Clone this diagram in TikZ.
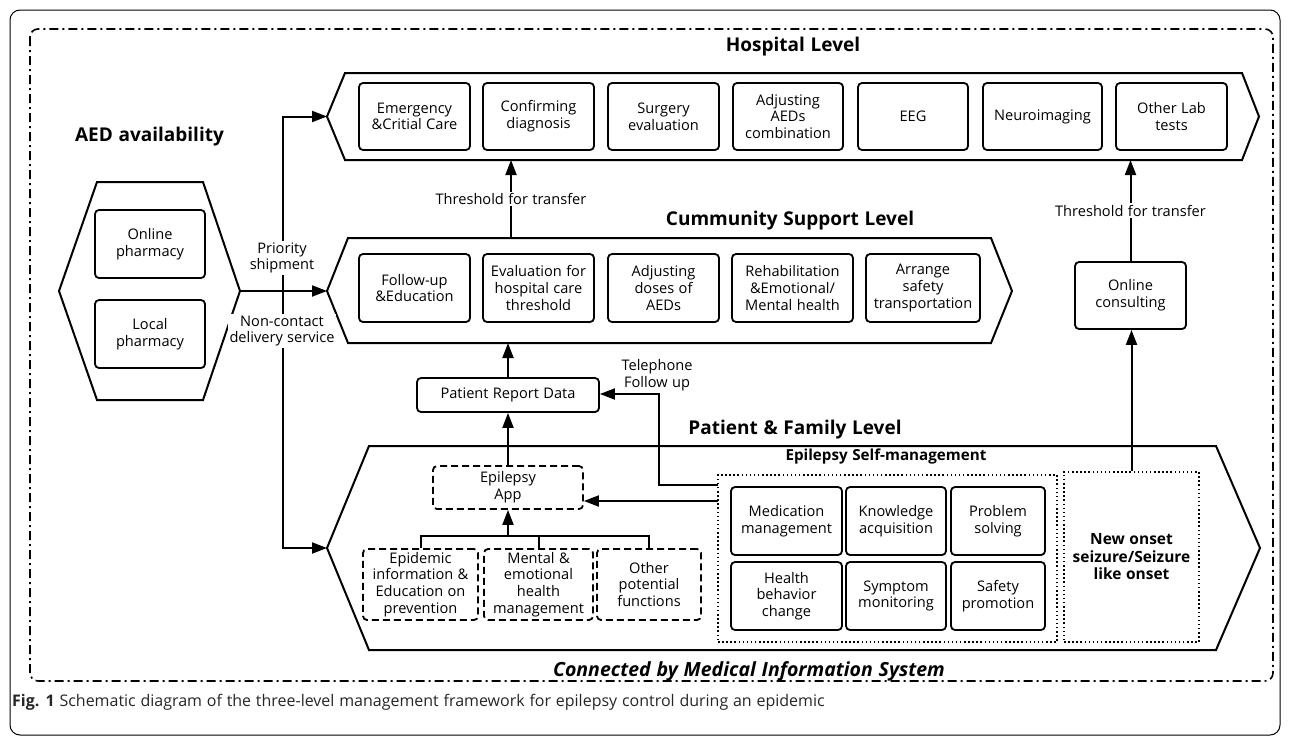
\documentclass[tikz,border=0pt]{standalone}
\usepackage{fontspec}
\setmainfont{Open Sans}[WordSpace=1.15]
\usetikzlibrary{arrows.meta,calc}
\newcommand{\bodyfs}{\fontsize{14.6}{16.7}\selectfont}
\newcommand{\titlefs}{\fontsize{19}{22}\selectfont\bfseries}
\begin{document}
\begin{tikzpicture}[x=1pt,y=-1pt,
  lw/.style={line width=2pt},
  box/.style={draw, line width=1.8pt, rounded corners=4pt, align=center, inner sep=1pt, font=\bodyfs},
  hbox/.style={box, minimum height=67pt},
  cbox/.style={box, minimum height=68pt},
  dbox/.style={box, dash pattern=on 7pt off 4pt},
  dotbox/.style={draw, line width=1.6pt, dash pattern=on 1.5pt off 2.6pt},
  smbox/.style={box, minimum height=68pt},
  title/.style={font=\titlefs, inner sep=0pt},
  lab/.style={font=\bodyfs, align=center, inner sep=1.5pt},
  arr/.style={lw, -{Triangle[length=15pt,width=11pt]}},
]
\useasboundingbox (0,0) rectangle (1290,736);
% frames
\draw[line width=1pt, rounded corners=10pt] (10,10) rectangle (1280,735);
\draw[line width=1.6pt, rounded corners=8pt, dash pattern=on 9pt off 4pt on 2pt off 4pt] (30,29) rectangle (1273,681);

% level shapes
\draw[lw] (345,73) -- (1242,73) -- (1259,116.5) -- (1242,160) -- (345,160) -- (327,116.5) -- cycle;
\coordinate (hospin) at (327,116.5);
\coordinate (hospb1) at (511,160);
\coordinate (hospb2) at (1130.5,160);
\draw[lw] (348,238) -- (991,238) -- (1012,291) -- (991,343) -- (348,343) -- (327,291) -- cycle;
\coordinate (commin) at (327,291);
\coordinate (commt) at (511,238);
\coordinate (commb) at (508,343);
\draw[lw] (369,446) -- (1216,446) -- (1260,548) -- (1216,650) -- (369,650) -- (327,548) -- cycle;
\coordinate (patin) at (327,548);
\draw[lw] (97,182) -- (203,182) -- (240,291) -- (203,400) -- (97,400) -- (59,291) -- cycle;
\coordinate (pharmr) at (240,291);
\coordinate (split) at (283,291);

% titles
\node[title] (tH) at (793,47) {Hospital Level};
\node[title] (tC) at (790,221) {Cummunity Support Level};
\node[title] (tP) at (795,430) {Patient \& Family Level};
\node[title] (tA) at (149.5,137) {AED availability};

% pharmacy
\node[box, minimum width=110pt, minimum height=68pt] (onph) at (150,244) {Online\\pharmacy};
\node[box, minimum width=110pt, minimum height=68pt] (loph) at (150,334) {Local\\pharmacy};

% hospital boxes
\node[hbox, minimum width=111pt] (h1) at (414.5,116.5) {Emergency\\\&Critial Care};
\node[hbox, minimum width=111pt] (h2) at (538.5,116.5) {Confirming\\diagnosis};
\node[hbox, minimum width=111pt] (h3) at (663.5,116.5) {Surgery\\evaluation};
\node[hbox, minimum width=110pt] (h4) at (788,116.5) {Adjusting\\AEDs\\combination};
\node[hbox, minimum width=110pt] (h5) at (913,116.5) {EEG};
\node[hbox, minimum width=119pt] (h6) at (1042.5,116.5) {Neuroimaging};
\node[hbox, minimum width=111pt] (h7) at (1171.5,116.5) {Other Lab\\tests};

% community boxes
\node[cbox, minimum width=111pt] (c1) at (414.5,288) {Follow-up\\\&Education};
\node[cbox, minimum width=111pt] (c2) at (538.5,288) {Evaluation for\\hospital care\\threshold};
\node[cbox, minimum width=111pt] (c3) at (663.5,288) {Adjusting\\doses of\\AEDs};
\node[cbox, minimum width=121pt] (c4) at (792.5,288) {Rehabilitation\\\&Emotional/\\Mental health};
\node[cbox, minimum width=114pt] (c5) at (923,288) {Arrange\\safety\\transportation};

% online consulting
\node[box, minimum width=111pt, minimum height=67pt] (oc) at (1130.5,295.5) {Online\\consulting};

% patient report data
\node[box, minimum width=182pt, minimum height=34pt] (prd) at (508,395) {Patient Report Data};

% epilepsy app and functions
\node[dbox, minimum width=150pt, minimum height=43pt] (app) at (508,487.5) {Epilepsy\\App};
\node[dbox, minimum width=115pt, minimum height=71pt] (f1) at (420.5,584.5) {Epidemic\\information \&\\Education on\\prevention};
\node[dbox, minimum width=109pt, minimum height=71pt] (f2) at (538.5,584.5) {Mental \&\\emotional\\health\\management};
\node[dbox, minimum width=104pt, minimum height=71pt] (f3) at (649,584.5) {Other\\potential\\functions};

% self-management
\node[font=\fontsize{15.2}{17}\selectfont\bfseries, inner sep=0pt] (smt) at (886,457) {Epilepsy Self-management};
\node[dotbox, minimum width=339pt, minimum height=167pt] (sm) at (887.5,558.5) {};
\node[smbox, minimum width=111pt] (s1) at (786.5,521) {Medication\\management};
\node[smbox, minimum width=100pt] (s2) at (896,521) {Knowledge\\acquisition};
\node[smbox, minimum width=94pt] (s3) at (998,521) {Problem\\solving};
\node[smbox, minimum width=111pt] (s4) at (786.5,596) {Health\\behavior\\change};
\node[smbox, minimum width=100pt] (s5) at (896,596) {Symptom\\monitoring};
\node[smbox, minimum width=94pt] (s6) at (998,596) {Safety\\promotion};
\node[dotbox, minimum width=135pt, minimum height=170pt, align=center, font=\fontsize{15.5}{17.5}\selectfont\bfseries] (no) at (1131.5,557) {New onset\\seizure/Seizure\\like onset};

% connectors
\draw[arr] (pharmr) -- (commin);
\draw[arr] (split) |- (hospin);
\draw[arr] (split) |- (patin);
\node[lab, fill=white] (lps) at (282,258) {Priority\\shipment};
\node[lab, fill=white] (lnc) at (282,331) {Non-contact\\delivery service};

\draw[arr] (commt) -- node[lab, fill=white] (lt1) {Threshold for transfer} (hospb1);
\draw[arr] (oc.north) -- node[lab, fill=white] (lt2) {Threshold for transfer} (hospb2);
\draw[arr] (no.north) -- (no.north |- oc.south);

\draw[arr] (prd.north) -- (commb);
\draw[arr] (app.north) -- (prd.south);

\coordinate (br) at (508,536);
\draw[lw] (f1.north) -- (f1.north |- br) -- (f3.north |- br) -- (f3.north);
\draw[lw] (f2.north) -- (f2.north |- br);
\draw[arr] (br) -- (app.south);

\coordinate (smA) at (718,501);
\coordinate (smT) at (718,485);
\coordinate (tel) at (659,394);
\draw[arr] (smA) -- (app.east |- smA);
\draw[arr] (smT) -| (tel) -- (prd.east |- tel);
\node[lab] (ltel) at (657,375) {Telephone\\Follow up};

% bottom texts
\node[font=\fontsize{19.5}{21}\selectfont\bfseries\itshape, inner sep=0pt] (cmis) at (749,671) {Connected by Medical Information System};
\node[anchor=west, font=\fontsize{16}{18}\selectfont, inner sep=0pt, text=black!85] (cap) at (12,702) {\textbf{Fig. 1} Schematic diagram of the three-level management framework for epilepsy control during an epidemic};
\end{tikzpicture}
\end{document}
